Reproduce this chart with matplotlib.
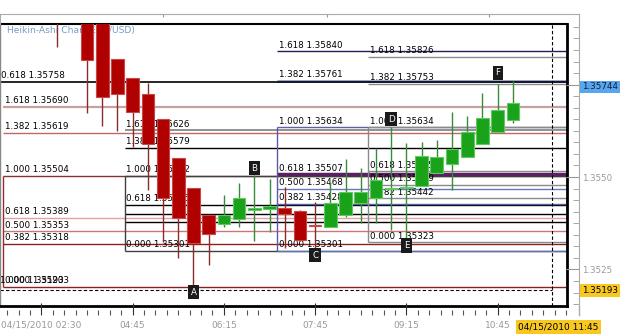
import matplotlib
matplotlib.use("Agg")
import matplotlib.pyplot as plt
from matplotlib.ticker import FixedLocator, MultipleLocator
from matplotlib.lines import Line2D

plt.rcParams['font.family'] = ['DejaVu Sans']

# ---------------- data ----------------
# candle index: 15-minute steps, index 0 = 04:00
candle_idx = [-2, 0, 1, 2, 3, 4, 5, 6, 7, 8, 9, 10, 11, 12, 13, 14, 15, 16, 17, 18,
              19, 20, 21, 22, 23, 24, 25, 26, 27, 28]
opens = [1.35990, 1.35960, 1.35930, 1.35818, 1.35769, 1.35724, 1.35656, 1.35551, 1.35469, 1.35397,
         1.35373, 1.35386, 1.35412, 1.35413, 1.35417, 1.35408, 1.35370, 1.35366, 1.35397, 1.35429,
         1.35442, 1.35467, 1.35469, 1.35476, 1.35512, 1.35534, 1.35555, 1.35588, 1.35622, 1.35654]
highs = [1.36000, 1.35970, 1.35935, 1.35818, 1.35769, 1.35755, 1.35656, 1.35551, 1.35469, 1.35400,
         1.35451, 1.35483, 1.35505, 1.35495, 1.35474, 1.35412, 1.35433, 1.35487, 1.35549, 1.35524,
         1.35578, 1.35636, 1.35591, 1.35594, 1.35600, 1.35675, 1.35666, 1.35726, 1.35753, 1.35759]
lows = [1.35851, 1.35674, 1.35639, 1.35624, 1.35582, 1.35465, 1.35324, 1.35282, 1.35200, 1.35262,
        1.35365, 1.35366, 1.35327, 1.35352, 1.35308, 1.35328, 1.35301, 1.35366, 1.35392, 1.35376,
        1.35375, 1.35357, 1.35323, 1.35476, 1.35512, 1.35465, 1.35555, 1.35588, 1.35622, 1.35647]
closes = [1.35940, 1.35816, 1.35717, 1.35724, 1.35676, 1.35588, 1.35443, 1.35388, 1.35321, 1.35345,
          1.35397, 1.35442, 1.35415, 1.35422, 1.35399, 1.35330, 1.35367, 1.35429, 1.35460, 1.35460,
          1.35492, 1.35471, 1.35473, 1.35558, 1.35555, 1.35576, 1.35622, 1.35660, 1.35681, 1.35699]

tick_idx = [-3, 3, 9, 15, 21, 27]
tick_labels = ["04/15/2010 02:30", "04:45", "06:15", "07:45", "09:15", "10:45"]

price_ticks = [1.3525, 1.3550, 1.3575]
price_tick_labels = ["1.3525", "1.3550", ""]

# Fibonacci sets
fibA_start = -5.5
fibA_levels = ["1.618", "1.382", "1.000", "0.618", "0.500", "0.382", "0.000"]
fibA_prices = [1.35690, 1.35619, 1.35504, 1.35389, 1.35353, 1.35318, 1.35203]

fibB_start = 2.5
fibB_levels = ["1.618", "1.382", "1.000", "0.618", None, None, "0.000"]
fibB_prices = [1.35626, 1.35579, 1.35502, 1.35425, 1.35400, 1.35378, 1.35301]

fibC_start = 12.5
fibC_levels = ["1.618", "1.382", "1.000", "0.618", "0.500", "0.382", "0.000"]
fibC_prices = [1.35840, 1.35761, 1.35634, 1.35507, 1.35468, 1.35428, 1.35301]

fibD_start = 18.5
fibD_levels = ["1.618", "1.382", "1.000", "0.618", "0.500", "0.382", "0.000"]
fibD_prices = [1.35826, 1.35753, 1.35634, 1.35515, 1.35479, 1.35442, 1.35323]

fibE_levels = ["0.618", "1.000"]
fibE_prices = [1.35758, 1.35193]

wave_names = ["A", "B", "C", "D", "E", "F"]
wave_x = [7, 11, 15, 20, 21, 27]
wave_y = [1.35188, 1.35524, 1.35288, 1.35656, 1.35315, 1.35782]

last_price = 1.35744
cursor_price = 1.35193
cursor_idx = 30.57
cursor_label_idx = 31
cursor_label = "04/15/2010 11:45"

# ---------------- styles ----------------
W, H = 625, 336
fig = plt.figure(figsize=(W / 100, H / 100), dpi=100)
fig.patch.set_facecolor("white")


def fx(px):
    return px / W


def fy(py):
    return 1 - py / H


XMIN, XMAX = -5.72, 31.56
YMIN, YMAX = 1.35151, 1.35914
FS = 6.3

ax = fig.add_axes([0, fy(306), fx(567), (306 - 24) / H])
ax.set_xlim(XMIN, XMAX)
ax.set_ylim(YMIN, YMAX)
ax.set_xticks([])
ax.set_yticks([])
for s, lw, c in [("top", 1.5, "black"), ("right", 2.0, "black"),
                 ("bottom", 2.0, "black"), ("left", 1.0, "#888888")]:
    ax.spines[s].set_linewidth(lw)
    ax.spines[s].set_color(c)

colA = ['#c8a0a0', '#c06868', '#8b3030', '#e8a0a0', '#c87878', '#8b2020', '#8b2020']
lwA = [1.6, 1.0, 1.0, 1.0, 1.0, 1.0, 1.0]
colB = ['#909090', '#000000', '#404040', '#000000', '#000000', '#000000', '#404040']
lwB = [1.4, 1.0, 1.0, 1.0, 1.0, 1.0, 1.0]
colC = ['#202060', '#8c9ccc', '#6060a8', '#5a2060', '#6878b8', '#5060a8', '#6070b8']
lwC = [1.0, 2.0, 1.0, 2.5, 1.0, 1.0, 1.0]
colD = ['#8a8a8a'] * 7
lwD = [1.0] * 7
boxcol = {'A': '#8b3030', 'B': '#404040', 'C': '#5a5aa8', 'D': '#8a8a8a'}


def draw_fib(start, levels, prices, cols, lws, vcol):
    for lvl, p, c, lw in zip(levels, prices, cols, lws):
        ax.hlines(p, start, XMAX, colors=c, lw=lw, zorder=1)
        if lvl is not None:
            ax.annotate(f"{lvl} {p:.5f}", xy=(start, p), xytext=(1, 1.3),
                        textcoords="offset points", fontsize=FS, ha="left",
                        va="bottom", color="black", zorder=2)
    ax.vlines(start, prices[-1], prices[2], colors=vcol, lw=1, zorder=1)


draw_fib(fibA_start, fibA_levels, fibA_prices, colA, lwA, boxcol['A'])
draw_fib(fibB_start, fibB_levels, fibB_prices, colB, lwB, boxcol['B'])
draw_fib(fibC_start, fibC_levels, fibC_prices, colC, lwC, boxcol['C'])
draw_fib(fibD_start, fibD_levels, fibD_prices, colD, lwD, boxcol['D'])

# black set starting at left edge (its 1.000 label sits on the 0.000 label of set A)
ax.hlines(fibE_prices[0], XMIN, XMAX, colors="black", lw=1.2, zorder=1)
ax.annotate(f"{fibE_levels[0]} {fibE_prices[0]:.5f}", xy=(XMIN, fibE_prices[0]),
            xytext=(0.6, 1.3), textcoords="offset points", fontsize=FS, ha="left",
            va="bottom", color="black", zorder=2)
ax.annotate(f"{fibE_levels[1]} {fibE_prices[1]:.5f}", xy=(XMIN, fibA_prices[-1]),
            xytext=(0.3, 1.3), textcoords="offset points", fontsize=FS, ha="left",
            va="bottom", color="black", zorder=2)

# crosshair
ax.hlines(cursor_price, XMIN, cursor_idx, colors="black", lw=0.8,
          linestyles=(0, (3, 2)), zorder=2)
ax.vlines(cursor_idx, YMIN, YMAX, colors="black", lw=0.8,
          linestyles=(0, (3, 2)), zorder=2)

# title
ax.text(7 / 567, (306 - 30) / 282, "Heikin-Ashi Chart(EUR/USD)", transform=ax.transAxes,
        fontsize=6.6, color="#7a9cc6", ha="left", va="center", zorder=2)

# candles
up = [c >= o for o, c in zip(opens, closes)]
body_col = ['#1aa31a' if u else '#b00000' for u in up]
edge_col = ['#60c860' if u else '#c84848' for u in up]
wick_col = ['#3a8a3a' if u else '#8b2a2a' for u in up]
bottoms = [min(o, c) for o, c in zip(opens, closes)]
heights = [abs(c - o) for o, c in zip(opens, closes)]
ax.vlines(candle_idx, lows, highs, colors=wick_col, lw=1.0, zorder=3)
ax.bar(candle_idx, heights, bottom=bottoms, width=0.83, color=body_col,
       edgecolor=edge_col, linewidth=0.8, zorder=4)

# wave labels
for n, x, y in zip(wave_names, wave_x, wave_y):
    ax.text(x, y, n, color="white", fontsize=6.3, ha="center", va="center", zorder=6,
            bbox=dict(boxstyle="square,pad=0.3", fc="#1a1a1a", ec="none"))

# top band
axt = fig.add_axes([0, fy(24), fx(579), 10 / H])
axt.set_xlim(0, 579)
axt.set_ylim(0, 1)
axt.set_yticks([])
axt.xaxis.set_major_locator(FixedLocator([163, 327, 489]))
axt.tick_params(axis="x", top=True, bottom=False, labeltop=False, labelbottom=False,
                direction="in", length=2.2, color="#999999")
for s in ["top", "left", "right"]:
    axt.spines[s].set_color("#aaaaaa")
axt.spines["bottom"].set_visible(False)
axt.patch.set_visible(False)

# right price axis
axr = fig.add_axes([fx(567), fy(306), fx(12), (306 - 24) / H])
axr.set_ylim(YMIN, YMAX)
axr.set_xticks([])
for s in ["top", "left", "bottom"]:
    axr.spines[s].set_visible(False)
axr.spines["right"].set_color("#aaaaaa")
axr.patch.set_visible(False)
axr.yaxis.tick_right()
axr.yaxis.set_major_locator(FixedLocator(price_ticks))
axr.set_yticklabels(price_tick_labels)
axr.yaxis.set_minor_locator(MultipleLocator(0.0003125))
axr.tick_params(axis="y", which="major", direction="in", length=9.4, color="#999999",
                labelsize=6.2, labelcolor="#999999", pad=2)
axr.tick_params(axis="y", which="minor", direction="in", length=4.3, color="#999999")
axr.annotate(f"{last_price:.5f}", xy=(1, last_price), xycoords=("axes fraction", "data"),
             xytext=(2.2, 0), textcoords="offset points", fontsize=6.3, ha="left",
             va="center", color="#10203a", zorder=10,
             bbox=dict(boxstyle="square,pad=0.2", fc="#5aa6ee", ec="none"))
axr.annotate(f"{cursor_price:.5f}", xy=(1, cursor_price), xycoords=("axes fraction", "data"),
             xytext=(2.2, 0), textcoords="offset points", fontsize=6.3, ha="left",
             va="center", color="black", zorder=10,
             bbox=dict(boxstyle="square,pad=0.2", fc="#f8c820", ec="none"))
fig.add_artist(Line2D([fx(579), fx(579)], [fy(306), fy(315)], color="#aaaaaa", lw=1))

# bottom time axis
axb = fig.add_axes([0, fy(315), fx(567), 9 / H])
axb.set_xlim(XMIN, XMAX)
axb.set_ylim(0, 1)
axb.set_yticks([])
for s in ["top", "left", "right", "bottom"]:
    axb.spines[s].set_visible(False)
axb.patch.set_visible(False)
axb.xaxis.set_major_locator(FixedLocator(tick_idx))
axb.set_xticklabels(tick_labels)
axb.xaxis.set_minor_locator(MultipleLocator(0.75))
axb.tick_params(axis="x", which="major", direction="in", length=8.6, width=0.8,
                color="#333333", labelsize=6.5, labelcolor="#999999", pad=4)
axb.tick_params(axis="x", which="minor", direction="in", length=3.6, width=0.8,
                color="#555555")
axb.annotate(cursor_label, xy=(cursor_label_idx, 0), xycoords=("data", "axes fraction"),
             xytext=(0, -8.6), textcoords="offset points", fontsize=6.5, ha="center",
             va="center", color="black", zorder=10, annotation_clip=False,
             bbox=dict(boxstyle="square,pad=0.25", fc="#f8c820", ec="none"))

fig.savefig("out.png", dpi=100)
